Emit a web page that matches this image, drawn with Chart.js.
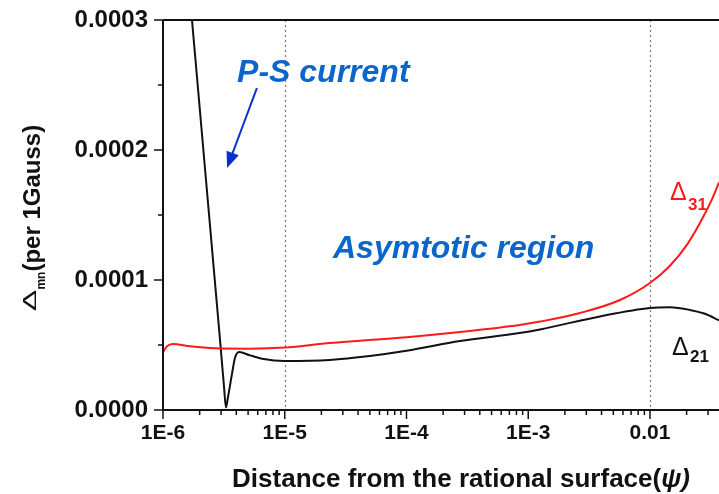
<!DOCTYPE html>
<html>
<head>
<meta charset="utf-8">
<script src="https://cdn.jsdelivr.net/npm/chart.js"></script>
<style>
  body { margin: 0; background: #fff; }
  #c { display: block; }
</style>
</head>
<body>
<canvas id="c" width="719" height="494"></canvas>
<script>
// data
const xBlack = [1.52e-6, 1.73e-6, 2.94e-6, 3.17e-6, 3.29e-6, 3.42e-6, 3.69e-6, 3.9e-6, 4.21e-6, 5.19e-6, 6.5e-6, 1e-5, 2.35e-5, 5.0e-5, 1e-4, 2.75e-4, 8.5e-4, 1.25e-3, 3.88e-3, 0.01, 0.0146, 0.0213, 0.0283, 0.0369];
const yBlack = [3.62e-4, 3.0e-4, 5.4e-5, 1.8e-5, 2e-6, 1.0e-5, 2.8e-5, 4.0e-5, 4.46e-5, 4.2e-5, 3.95e-5, 3.77e-5, 3.85e-5, 4.15e-5, 4.55e-5, 5.3e-5, 5.92e-5, 6.2e-5, 7.2e-5, 7.85e-5, 7.9e-5, 7.7e-5, 7.4e-5, 6.9e-5];
const xRed = [1e-6, 1.08e-6, 1.2e-6, 1.67e-6, 2.67e-6, 5.19e-6, 1e-5, 2.35e-5, 1e-4, 2.75e-4, 8.5e-4, 1.25e-3, 2.66e-3, 5.67e-3, 0.01, 0.0146, 0.0201, 0.0258, 0.0323, 0.0369];
const yRed = [4.46e-5, 4.9e-5, 5.08e-5, 4.9e-5, 4.75e-5, 4.72e-5, 4.8e-5, 5.15e-5, 5.6e-5, 6.0e-5, 6.54e-5, 6.8e-5, 7.46e-5, 8.46e-5, 9.77e-5, 1.11e-4, 1.27e-4, 1.44e-4, 1.62e-4, 1.75e-4];

const xTickValues = [1e-6, 1e-5, 1e-4, 1e-3, 1e-2];
const xTickLabels = ['1E-6', '1E-5', '1E-4', '1E-3', '0.01'];
const yTickValues = [0, 1e-4, 2e-4, 3e-4];
const yTickLabels = ['0.0000', '0.0001', '0.0002', '0.0003'];
const dottedX = [1e-5, 1e-2];

const xMin = 1e-6, xMax = 0.0369;
const FONT = '"Liberation Sans", Arial, sans-serif';
const BLUE = '#0b66cc';

function pts(xs, ys) {
  return xs.map((x, i) => ({ x: x, y: ys[i] }));
}

// axes, ticks, titles and notes
const decor = {
  id: 'decor',
  beforeDatasetsDraw(chart) {
    const ctx = chart.ctx, a = chart.chartArea, xs = chart.scales.x;
    ctx.save();
    ctx.strokeStyle = '#777';
    ctx.lineWidth = 1.2;
    ctx.setLineDash([2, 3]);
    dottedX.forEach(v => {
      const px = Math.round(xs.getPixelForValue(v)) + 0.5;
      ctx.beginPath();
      ctx.moveTo(px, a.top);
      ctx.lineTo(px, a.bottom);
      ctx.stroke();
    });
    ctx.restore();
  },
  afterDraw(chart) {
    const ctx = chart.ctx, a = chart.chartArea;
    const xs = chart.scales.x, ys = chart.scales.y;
    ctx.save();
    ctx.strokeStyle = '#111';
    ctx.lineWidth = 2;
    ctx.beginPath();
    ctx.moveTo(a.left, a.top);
    ctx.lineTo(a.left, a.bottom);
    ctx.lineTo(a.right, a.bottom);
    ctx.moveTo(a.left, a.top);
    ctx.lineTo(a.right, a.top);
    ctx.stroke();

    // y ticks
    ctx.lineWidth = 1.5;
    for (let v = 0; v <= 3e-4 + 1e-12; v += 5e-5) {
      const py = ys.getPixelForValue(v);
      const major = Math.abs(v / 1e-4 - Math.round(v / 1e-4)) < 1e-6;
      ctx.beginPath();
      ctx.moveTo(a.left - (major ? 9 : 5), py);
      ctx.lineTo(a.left, py);
      ctx.stroke();
    }
    // x ticks
    for (let d = 1e-6; d < xMax; d *= 10) {
      for (let k = 1; k <= 9; k++) {
        const v = k * d;
        if (v > xMax) break;
        const px = xs.getPixelForValue(v);
        ctx.beginPath();
        ctx.moveTo(px, a.bottom);
        ctx.lineTo(px, a.bottom + (k === 1 ? 9 : 5));
        ctx.stroke();
      }
    }

    // x title
    ctx.fillStyle = '#111';
    ctx.textBaseline = 'alphabetic';
    ctx.textAlign = 'left';
    const t1 = 'Distance from the rational surface(';
    ctx.font = 'bold 26px ' + FONT;
    const w1 = ctx.measureText(t1).width;
    ctx.font = 'italic bold 26px ' + FONT;
    const w2 = ctx.measureText('\u03c8)').width;
    let sx = 461 - (w1 + w2) / 2;
    ctx.font = 'bold 26px ' + FONT;
    ctx.fillText(t1, sx, 487);
    ctx.font = 'italic bold 26px ' + FONT;
    ctx.fillText('\u03c8)', sx + w1, 487);

    // y title, rotated
    ctx.save();
    ctx.translate(40, 218);
    ctx.rotate(-Math.PI / 2);
    ctx.font = 'bold 24px ' + FONT;
    const main = '(per 1Gauss)';
    const wm = ctx.measureText(main).width;
    ctx.font = 'bold 12px ' + FONT;
    const ws = ctx.measureText('mn').width;
    ctx.font = '19px ' + FONT;
    const wd = ctx.measureText('\u0394').width * 1.7;
    const total = wd + ws + wm;
    let u = -total / 2;
    ctx.save();
    ctx.translate(u, -4);
    ctx.scale(1.7, 1);
    ctx.font = '19px ' + FONT;
    ctx.fillText('\u0394', 0, 0);
    ctx.restore();
    u += wd;
    ctx.font = 'bold 12px ' + FONT;
    ctx.fillText('mn', u, 5);
    u += ws;
    ctx.font = 'bold 24px ' + FONT;
    ctx.fillText(main, u, 0);
    ctx.restore();

    // notes, placed by data values
    const P = (x, y) => [xs.getPixelForValue(x), ys.getPixelForValue(y)];
    ctx.fillStyle = BLUE;
    ctx.font = 'italic bold 32px ' + FONT;
    let p = P(4.06e-6, 2.523e-4);
    ctx.fillText('P-S current', p[0], p[1]);
    p = P(2.49e-5, 1.169e-4);
    ctx.fillText('Asymtotic region', p[0], p[1]);

    // arrow
    const s = P(5.91e-6, 2.477e-4), e = P(3.36e-6, 1.862e-4);
    const ang = Math.atan2(e[1] - s[1], e[0] - s[0]);
    ctx.strokeStyle = '#0a2fd0';
    ctx.fillStyle = '#0a2fd0';
    ctx.lineWidth = 2;
    ctx.beginPath();
    ctx.moveTo(s[0], s[1]);
    ctx.lineTo(e[0] - 12 * Math.cos(ang), e[1] - 12 * Math.sin(ang));
    ctx.stroke();
    ctx.beginPath();
    ctx.moveTo(e[0], e[1]);
    ctx.lineTo(e[0] - 16 * Math.cos(ang) + 6.5 * Math.sin(ang), e[1] - 16 * Math.sin(ang) - 6.5 * Math.cos(ang));
    ctx.lineTo(e[0] - 16 * Math.cos(ang) - 6.5 * Math.sin(ang), e[1] - 16 * Math.sin(ang) + 6.5 * Math.cos(ang));
    ctx.closePath();
    ctx.fill();

    // curve labels
    p = P(0.0146, 1.615e-4);
    ctx.fillStyle = '#ff1a1a';
    ctx.font = '25px ' + FONT;
    ctx.fillText('\u0394', p[0], p[1]);
    ctx.font = 'bold 17px ' + FONT;
    ctx.fillText('31', p[0] + 18, p[1] + 10);

    p = P(0.0152, 4.23e-5);
    ctx.fillStyle = '#111';
    ctx.font = '25px ' + FONT;
    ctx.fillText('\u0394', p[0], p[1]);
    ctx.font = 'bold 17px ' + FONT;
    ctx.fillText('21', p[0] + 18, p[1] + 7);
    ctx.restore();
  }
};

new Chart(document.getElementById('c'), {
  type: 'line',
  data: {
    datasets: [
      {
        label: 'Delta31',
        data: pts(xRed, yRed),
        borderColor: '#ff1a1a',
        borderWidth: 2,
        pointRadius: 0,
        cubicInterpolationMode: 'monotone'
      },
      {
        label: 'Delta21',
        data: pts(xBlack, yBlack),
        borderColor: '#111',
        borderWidth: 2,
        pointRadius: 0,
        cubicInterpolationMode: 'monotone'
      }
    ]
  },
  options: {
    responsive: false,
    devicePixelRatio: 1,
    animation: false,
    layout: { padding: { top: 20, right: 0, left: 0, bottom: 0 } },
    plugins: { legend: { display: false }, tooltip: { enabled: false } },
    scales: {
      x: {
        type: 'logarithmic',
        min: xMin,
        max: xMax,
        grid: { display: false, drawTicks: false },
        border: { display: false },
        afterBuildTicks: s => { s.ticks = xTickValues.map(v => ({ value: v })); },
        afterFit: s => { s.height = 84; },
        ticks: {
          autoSkip: false,
          maxRotation: 0,
          padding: 11,
          color: '#111',
          font: { family: FONT, size: 21, weight: 'bold' },
          callback: (v, i) => xTickLabels[i]
        }
      },
      y: {
        min: 0,
        max: 3e-4,
        grid: { display: false, drawTicks: false },
        border: { display: false },
        afterBuildTicks: s => { s.ticks = yTickValues.map(v => ({ value: v })); },
        afterFit: s => { s.width = 163; s.paddingTop = 0; s.paddingBottom = 0; },
        ticks: {
          padding: 15,
          color: '#111',
          font: { family: FONT, size: 24, weight: 'bold' },
          callback: (v, i) => yTickLabels[i]
        }
      }
    }
  },
  plugins: [decor]
});
</script>
</body>
</html>
